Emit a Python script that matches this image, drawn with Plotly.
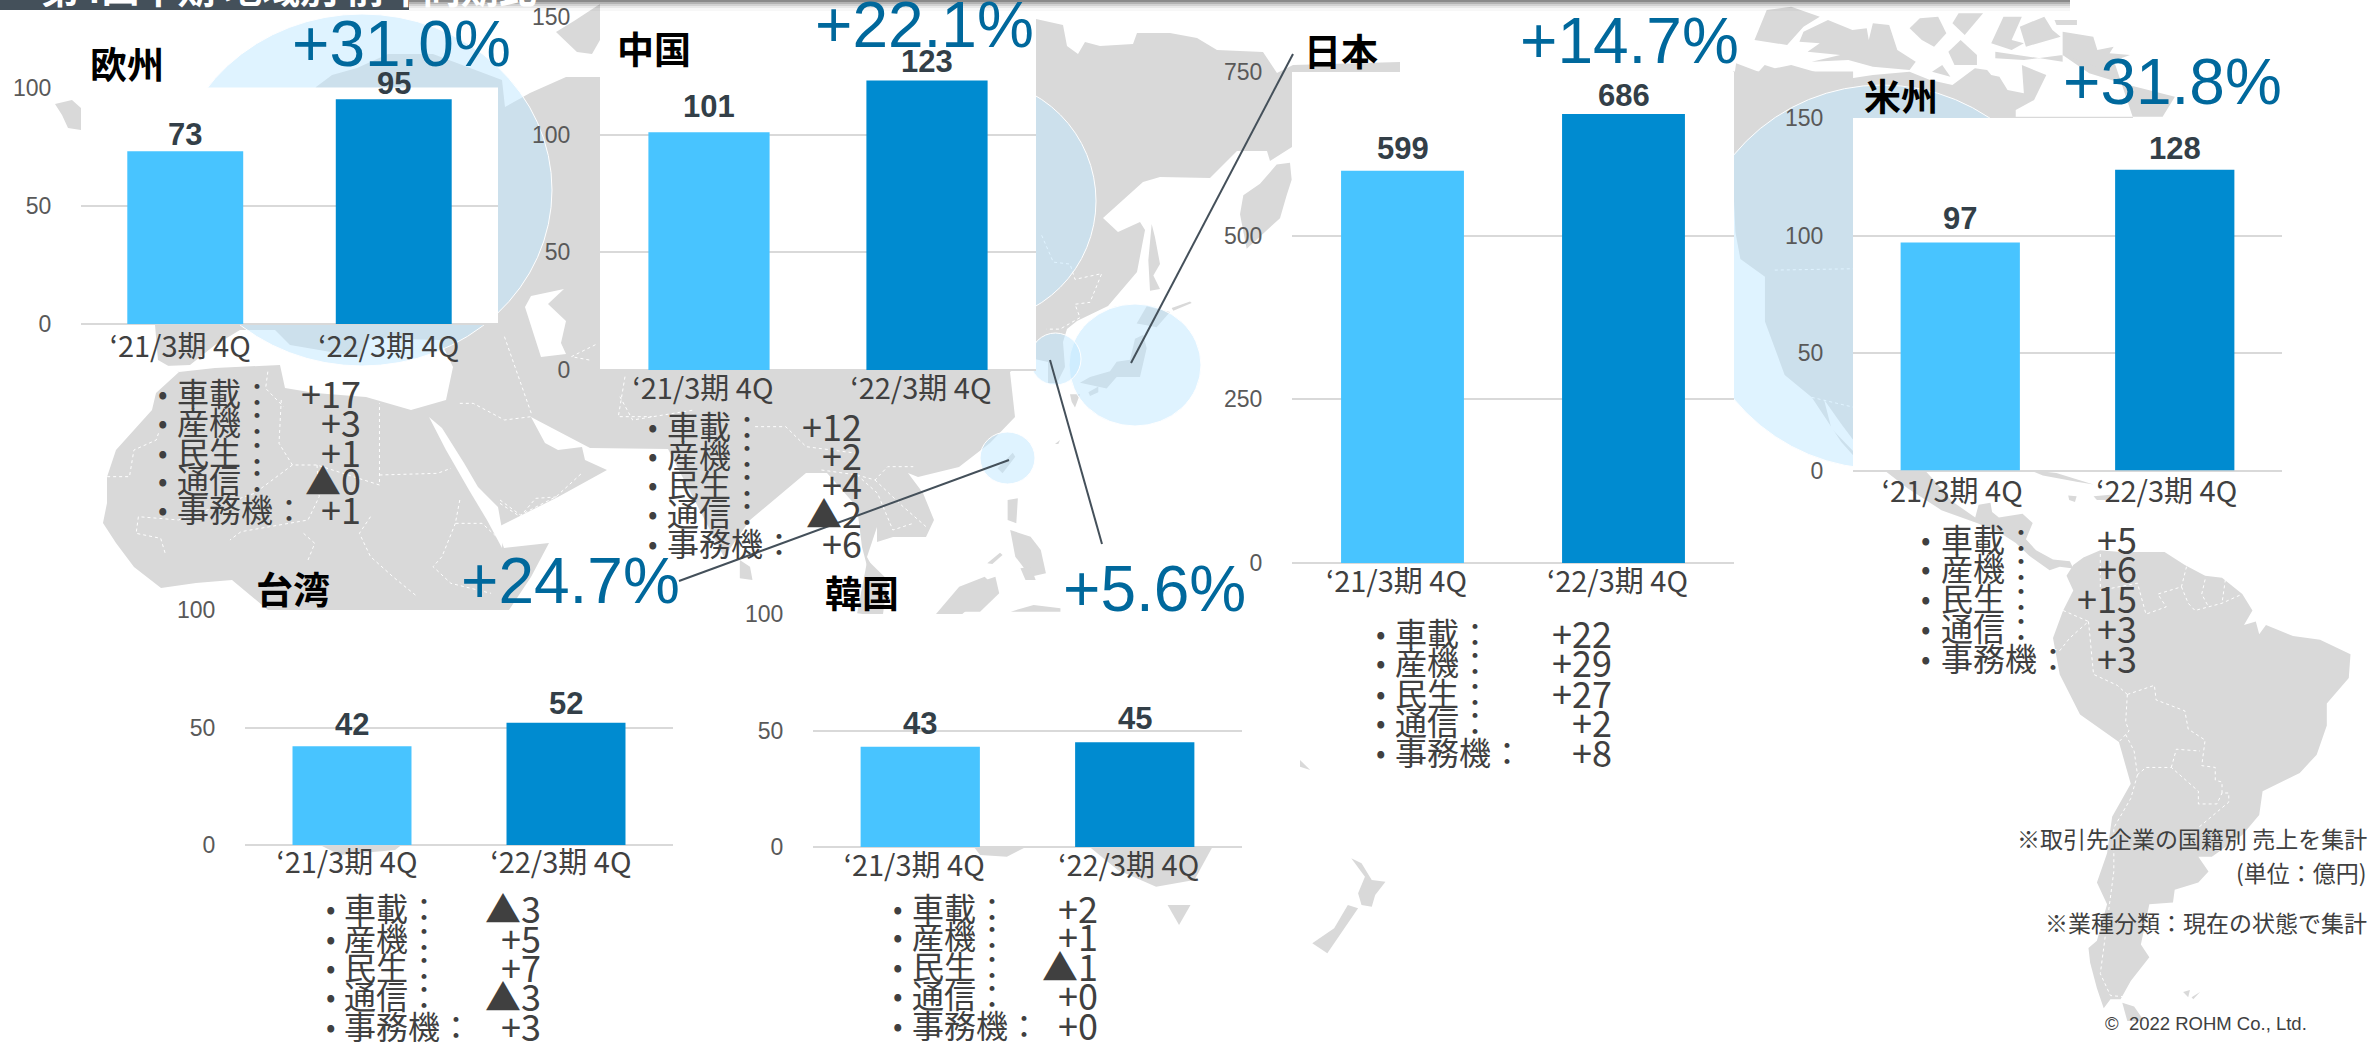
import plotly.graph_objects as go

W, H = 2372, 1042

# ---------- chart data ----------
categories = ["‘21/3期 4Q", "‘22/3期 4Q"]
segments = ["車載", "産機", "民生", "通信", "事務機"]

region_names = ["欧州", "中国", "日本", "米州", "台湾", "韓国"]
europe_values = [73, 95]
china_values = [101, 123]
japan_values = [599, 686]
americas_values = [97, 128]
taiwan_values = [42, 52]
korea_values = [43, 45]

europe_deltas = ["+17", "+3", "+1", "▲0", "+1"]
china_deltas = ["+12", "+2", "+4", "▲2", "+6"]
japan_deltas = ["+22", "+29", "+27", "+2", "+8"]
americas_deltas = ["+5", "+6", "+15", "+3", "+3"]
taiwan_deltas = ["▲3", "+5", "+7", "▲3", "+3"]
korea_deltas = ["+2", "+1", "▲1", "+0", "+0"]

growth_labels = ["+31.0%", "+22.1%", "+14.7%", "+31.8%", "+24.7%", "+5.6%"]
axis_maxima = [100, 150, 750, 150, 100, 100]
axis_ticks = [[0, 50, 100], [0, 50, 100, 150], [0, 250, 500, 750], [0, 50, 100, 150], [0, 50, 100], [0, 50, 100]]

notes = ["※取引先企業の国籍別 売上を集計", "(単位：億円)", "※業種分類：現在の状態で集計"]
copyright_text = "©  2022 ROHM Co., Ltd."
header_text = "第4四半期 地域別 前年同期比"

all_values = [europe_values, china_values, japan_values, americas_values, taiwan_values, korea_values]
all_deltas = [europe_deltas, china_deltas, japan_deltas, americas_deltas, taiwan_deltas, korea_deltas]

# ---------- layout of the panels (pixels) ----------
panels = [
    dict(l=81, r=498, top=87.5, bot=324, gaps=[17, 16], title=(89, 63), growth=(512, 44), shift=-5, standoff=3,
         rows=(162, 176, 362, [392, 421, 451, 479, 508])),
    dict(l=600, r=1036, top=17, bot=370, gaps=[26, 19], title=(616, 48), growth=(1035, 25), shift=-6, standoff=-1,
         rows=(652, 666, 863, [425, 454, 483, 512, 542])),
    dict(l=1292, r=1734, top=72, bot=563, gaps=[22, 18], title=(1303, 50), growth=(1740, 41), shift=-6, standoff=-1,
         rows=(1380, 1394, 1613, [632, 661, 692, 721, 751])),
    dict(l=1853, r=2282, top=118, bot=470.5, gaps=[24, 21], title=(1863, 95), growth=(2283, 82), shift=-8, standoff=1,
         rows=(1925, 1940, 2138, [538, 567, 597, 627, 657])),
    dict(l=245, r=673, top=610, bot=845, gaps=[22, 19], title=(255, 588), growth=(681, 581), shift=-5, standoff=-2,
         rows=(330, 343, 542, [907, 937, 966, 995, 1025])),
    dict(l=813, r=1242, top=614, bot=847, gaps=[23, 24], title=(824, 592), growth=(1247, 589), shift=-6, standoff=-1,
         rows=(897, 911, 1099, [907, 935, 965, 994, 1024])),
]

LIGHT, DARK = "#48c4ff", "#008bd0"
GRID = "#d9d9d9"
LAND = "#d9d9d9"
JP = "Noto Sans CJK JP"
LAT = "Liberation Sans"


def fx(x):
    return x / W


def fy(y):
    return 1 - y / H


def path(pts, close=True):
    s = "M " + " L ".join(f"{fx(x):.5f},{fy(y):.5f}" for x, y in pts)
    return s + (" Z" if close else "")


def z(x0, y0, sx, sy, pts):
    return [(x0 + x / sx, y0 + y / sy) for x, y in pts]


def z6(p): return z(0, 300, 2.24, 3, p)
def z7(p): return z(500, 360, 1.96, 3, p)
def z8(p): return z(1030, 0, 3, 2.613, p)
def z9(p): return z(1730, 0, 2.45, 3, p)
def z10(p): return z(1840, 470, 2.958, 2.74, p)
def z4(p): return z(100, 540, 1.3067, 3, p)
def z5(p): return z(1300, 600, 1.463, 3, p)


# ---------- background map (decoration only) ----------
eurafrasia = [
    (158, 360), (155, 325), (190, 250), (280, 160), (316, 87), (332, 75), (357, 68), (388, 54), (433, 54),
    (502, 80), (505, 107), (530, 93), (566, 77), (600, 77), (700, 30), (1036, 19), (1063, 25), (1067, 46),
    (1078, 54), (1085, 42), (1100, 46), (1133, 44), (1137, 33), (1170, 33), (1197, 38), (1217, 50), (1263, 52),
    (1277, 73), (1293, 65), (1400, 62), (1400, 147), (1292, 147), (1270, 161), (1267, 151), (1237, 151),
    (1210, 178), (1160, 177), (1143, 182), (1103, 218), (1118, 232), (1140, 222), (1145, 230), (1137, 272),
    (1108, 306), (1077, 321), (1067, 329), (1063, 342), (1065, 367), (1057, 383), (1048, 383), (1048, 362),
    (1030, 358), (1010, 372), (1015, 417), (990, 443), (959, 467), (918, 477), (908, 473), (923, 493),
    (934, 520), (926, 537), (893, 537), (877, 542), (877, 527), (867, 557), (885, 590), (872, 585), (862, 547),
    (857, 507), (827, 473), (806, 473), (750, 520), (724, 557), (668, 449), (590, 448), (531, 417), (545, 443),
    (558, 450), (582, 447), (585, 460), (607, 470), (558, 497), (498, 527), (500, 537), (504, 548), (549, 543),
    (531, 577), (509, 610), (500, 700), (460, 800), (395, 850), (340, 855), (320, 845), (300, 700), (268, 610),
    (232, 580), (196, 583), (161, 588), (134, 567), (116, 543), (103, 523), (107, 503), (107, 477), (116, 450),
    (134, 430), (152, 410), (156, 393), (179, 372),
]
land = [
    eurafrasia,
    [(55, 104), (72, 100), (81, 108), (81, 130), (68, 128), (62, 115)],            # Iceland
    [(556, 32), (574, 21), (600, 4), (600, 40), (592, 54), (577, 52)],             # Novaya Zemlya
    z8([(365, 585), (375, 620), (390, 690), (370, 720), (390, 755), (360, 760), (355, 680)]),
    z8([(780, 425), (740, 430), (690, 480), (640, 510), (630, 560), (650, 650), (700, 610), (750, 570), (770, 510), (785, 470)]),
    z8([(320, 845), (350, 800), (420, 815), (380, 855), (350, 850)]),
    z8([(315, 885), (340, 875), (350, 910), (330, 985), (260, 985), (230, 1015), (150, 1000), (130, 1010), (180, 985), (240, 970), (260, 945), (300, 940)]),
    z8([(175, 1025), (205, 1010), (205, 1025), (180, 1035)]),
    z8([(120, 1030), (150, 1030), (135, 1065), (125, 1050)]),
    z8([(425, 805), (480, 788), (485, 792), (430, 812)]),
    z8([(75, 1160), (90, 1150), (85, 1160)]),
    z7([(1005, 278), (1010, 290), (985, 340), (975, 325)]),                        # Taiwan
    z7([(995, 420), (1015, 415), (1012, 490), (995, 480)]),
    z7([(1000, 510), (1040, 530), (1060, 570), (1070, 640), (1040, 650), (1010, 590)]),
    z7([(470, 600), (490, 620), (495, 660), (470, 655)]),                          # Sri Lanka
    z7([(850, 770), (900, 680), (950, 650), (970, 680), (930, 730), (900, 770)]),
    z7([(955, 610), (980, 578), (985, 585), (965, 612)]),
    z7([(700, 760), (720, 600), (760, 660), (750, 770)]),
    z7([(1020, 625), (1040, 620), (1050, 660), (1030, 660)]),
    z4([(1140, 915), (1150, 945), (1185, 950), (1215, 915)]),
    z4([(1290, 915), (1330, 990), (1380, 1040), (1430, 1020), (1455, 915)]),
    z4([(1395, 1095), (1425, 1095), (1410, 1155)]),
    z4([(1120, 215), (1145, 130), (1170, 110), (1175, 160), (1150, 215)]),
    z4([(1190, 215), (1220, 195), (1255, 205), (1255, 215)]),
    z5([(75, 775), (90, 790), (105, 840), (125, 845), (110, 885), (105, 920), (90, 915), (85, 880), (95, 830)]),
    z5([(70, 915), (85, 925), (65, 985), (40, 1060), (18, 1030), (50, 985)]),
    z5([(0, 480), (15, 510), (0, 500)]),
    # Canada / Alaska mainland
    z9([(15, 190), (70, 215), (85, 195), (110, 205), (150, 195), (235, 225), (245, 240), (270, 240), (350, 225),
        (440, 215), (490, 240), (545, 255), (600, 205), (630, 210), (640, 225), (660, 230), (680, 270), (720, 280),
        (715, 195), (775, 225), (745, 300), (700, 330), (700, 350), (900, 350), (1060, 350), (1090, 290), (960, 250),
        (880, 220), (815, 165), (940, 180), (1000, 400), (-10, 400)]),
    z(1600, 0, 2.031, 2.24, [(270, 160), (514, 160), (514, 1020), (490, 990), (430, 890), (375, 840), (335, 720), (335, 620), (285, 580), (275, 520), (270, 400)]),
    z9([(60, 120), (90, 30), (150, 20), (220, 50), (180, 80), (140, 135)]),
    z9([(170, 125), (180, 95), (240, 60), (300, 90), (335, 85), (340, 120), (350, 70), (390, 75), (410, 150), (455, 185), (440, 210), (350, 200), (290, 180), (200, 185), (270, 165), (190, 155), (220, 130)]),
    z9([(440, 85), (465, 55), (510, 50), (530, 100), (500, 140), (470, 120)]),
    z9([(545, 70), (560, 40), (620, 40), (575, 105)]),
    z9([(535, 155), (565, 120), (605, 165), (605, 195), (550, 195)]),
    z9([(495, 215), (520, 195), (540, 230)]),
    z9([(640, 130), (670, 50), (715, 50), (690, 120), (720, 130), (690, 150)]),
    z9([(710, 80), (770, 50), (790, 90), (810, 110), (725, 140)]),
    z9([(795, 60), (850, 60), (850, 75), (800, 75)]),
    z9([(650, 155), (815, 185), (815, 95), (890, 110), (900, 150), (940, 140), (930, 160), (980, 165), (900, 200), (815, 165), (720, 180), (650, 175)]),
    # Central and South America
    z10([(130, 0), (200, 50), (300, 110), (405, 145), (470, 170), (520, 200), (560, 235), (620, 275), (650, 265), (690, 270), (680, 250), (630, 245), (580, 220), (550, 190), (570, 145), (540, 120), (470, 130), (450, 115), (445, 90), (410, 95), (400, 130), (330, 85), (290, 40), (250, 0)]),
    z10([(560, 0), (640, 8), (750, 40), (700, 32), (600, 15)]),
    z10([(675, 70), (700, 72), (695, 88), (678, 82)]),
    z10([(750, 72), (800, 68), (800, 82), (760, 82)]),
    z10([(690, 260), (720, 240), (770, 220), (830, 225), (900, 225), (960, 225), (1020, 260), (1080, 290), (1130, 295), (1190, 340), (1220, 385), (1195, 425), (1230, 415), (1240, 450), (1260, 425), (1340, 455), (1420, 465), (1510, 505), (1505, 570), (1440, 640), (1440, 700), (1410, 780), (1360, 830), (1250, 880), (1240, 945), (1190, 1000), (1100, 1060), (1060, 1060), (1090, 1100), (1060, 1130), (990, 1150), (985, 1185), (915, 1190), (890, 1300), (915, 1335), (860, 1400), (830, 1450), (800, 1450), (780, 1475), (760, 1420), (740, 1350), (735, 1310), (760, 1290), (790, 1190), (760, 1130), (790, 1050), (805, 950), (860, 860), (825, 745), (710, 670), (650, 560), (630, 460), (660, 385), (690, 330), (670, 290)]),
    z10([(835, 1460), (870, 1470), (900, 1510), (850, 1510)]),
    z10([(1015, 1430), (1035, 1425), (1030, 1445)]),
    z10([(1040, 1445), (1065, 1430), (1045, 1450)]),
]
seas = [
    [(179, 372), (215, 368), (280, 365), (285, 388), (315, 393), (366, 397), (411, 410), (446, 400), (453, 367),
     (440, 340), (370, 338), (360, 357), (290, 345), (275, 330), (240, 330), (215, 345), (190, 365), (165, 366)],
    [(429, 417), (446, 450), (469, 490), (487, 520), (502, 548), (503, 535), (498, 507), (478, 487), (464, 463), (442, 428)],
    [(531, 296), (564, 289), (548, 304), (566, 321), (561, 343), (566, 354), (541, 357), (525, 307)],
    z(1600, 0, 2.031, 2.24, [(455, 895), (470, 960), (514, 1010), (514, 985), (490, 950)]),
]
borders = [
    z6([(630, 300), (625, 430), (655, 495), (710, 495), (850, 555), (850, 310)]),
    z6([(850, 525), (980, 520), (1010, 505)]),
    z6([(240, 530), (290, 530), (300, 450), (350, 420), (355, 400)]),
    z6([(600, 215), (595, 265), (635, 320)]),
    z6([(710, 495), (715, 590), (690, 660), (540, 695), (515, 720)]),
    z6([(655, 495), (570, 580), (400, 660), (310, 650)]),
    z6([(310, 650), (305, 700), (360, 715), (370, 760)]),
    z6([(830, 650), (805, 700), (830, 770), (880, 830), (935, 890)]),
    z6([(1030, 600), (1020, 670), (1080, 670), (1120, 720)]),
    z6([(1020, 670), (990, 770), (970, 800), (1010, 850), (1100, 880)]),
    z6([(690, 780), (705, 730), (680, 700)]),
    z6([(1030, 310), (1060, 310), (1130, 360), (1190, 350)]),
    z6([(1130, 110), (1190, 340)]),
    z6([(1320, 180), (1280, 170), (1340, 130)]),
    z6([(1400, 230), (1385, 350), (1460, 350)]),
    z6([(1120, 610), (1165, 650), (1200, 595), (1255, 590), (1250, 625)]),
    z7([(235, 110), (260, 180), (380, 150)]),
    z7([(500, 200), (560, 200), (600, 260), (700, 280)]),
    z7([(630, 330), (700, 345), (735, 360), (760, 320), (810, 320)]),
    z7([(735, 360), (790, 440), (835, 500)]),
    z7([(700, 345), (740, 400), (770, 510), (810, 490)]),
    z7([(0, 420), (40, 465), (110, 410), (160, 340)]),
    z8([(35, 615), (70, 685), (120, 690), (135, 730), (215, 715), (180, 790), (135, 795), (150, 830), (90, 860), (50, 860)]),
    z(1600, 0, 2.031, 2.24, [(355, 605), (514, 602)]),
    z(1600, 0, 2.031, 2.24, [(430, 890), (514, 912)]),
    z10([(850, 615), (930, 590), (935, 630), (1020, 660), (1030, 710), (1080, 740), (1070, 810), (1110, 815), (1110, 850), (1130, 855), (1130, 885), (1150, 885), (1150, 910), (1060, 980)]),
    z10([(850, 615), (845, 690), (855, 715), (825, 745)]),
    z10([(845, 725), (870, 770), (880, 835), (905, 815), (980, 815), (1060, 880), (1060, 915), (1115, 915), (1130, 885)]),
    z10([(980, 815), (995, 765), (1065, 770)]),
    z10([(880, 835), (860, 900), (810, 980), (810, 1100), (770, 1380), (800, 1440), (860, 1445)]),
    z10([(660, 385), (735, 415), (680, 460), (650, 495), (630, 490)]),
    z10([(735, 415), (750, 560), (820, 590), (850, 615)]),
    z10([(770, 230), (770, 330), (880, 310), (905, 395), (965, 375), (940, 340), (1010, 320), (1025, 265)]),
    z10([(1010, 320), (1030, 365), (1050, 385), (1130, 365), (1190, 340)]),
    z10([(1080, 300), (1070, 340), (1090, 375)]),
    z10([(1140, 300), (1130, 365)]),
]
circles = [
    (172, 552, 14, 366),
    (852, 1096, 79, 323),
    (1069, 1201, 304, 426),
    (1030, 1081, 333, 385),
    (980, 1035, 432, 484),
    (1690, 2074, 85, 469),
]
leader_lines = [
    [(1293, 54), (1131, 363)],
    [(1050, 360), (1102, 544)],
    [(1009, 460), (679, 581)],
]
shadow_steps = [(0, 2, .46), (2, 4, .30), (4, 6, .18), (6, 8, .09), (8, 11, .03)]

shapes = []
for poly in land:
    shapes.append(dict(type="path", path=path(poly), xref="paper", yref="paper", fillcolor=LAND, line_width=0, layer="below"))
for poly in seas:
    shapes.append(dict(type="path", path=path(poly), xref="paper", yref="paper", fillcolor="white", line_width=0, layer="below"))
for line in borders:
    shapes.append(dict(type="path", path=path(line, close=False), xref="paper", yref="paper",
                       line=dict(color="white", width=1, dash="dot"), layer="below"))
for x0, x1, y0, y1 in circles:
    shapes.append(dict(type="circle", xref="paper", yref="paper", x0=fx(x0), x1=fx(x1), y0=fy(y1), y1=fy(y0),
                       fillcolor="rgba(191,231,255,0.5)", line=dict(color="white", width=1), layer="below"))
for p in panels:
    shapes.append(dict(type="rect", xref="paper", yref="paper", x0=fx(p["l"]), x1=fx(p["r"]), y0=fy(p["bot"]), y1=fy(p["top"]),
                       fillcolor="white", line_width=0, layer="below"))
for y0, y1, a in shadow_steps:
    shapes.append(dict(type="rect", xref="paper", yref="paper", x0=fx(409), x1=fx(2070), y0=fy(y1), y1=fy(y0),
                       fillcolor=f"rgba(0,0,0,{a})", line_width=0, layer="above"))
shapes.append(dict(type="rect", xref="paper", yref="paper", x0=0, x1=fx(409), y0=fy(10), y1=1,
                   fillcolor="#44505a", line_width=0, layer="above"))
for a, b in leader_lines:
    shapes.append(dict(type="line", xref="paper", yref="paper", x0=fx(a[0]), y0=fy(a[1]), x1=fx(b[0]), y1=fy(b[1]),
                       line=dict(color="#44505a", width=2), layer="above"))

# ---------- figure ----------
fig = go.Figure()
annotations = []


def note(x, y, text, size, color, anchor="left", family=JP):
    annotations.append(dict(xref="paper", yref="paper", x=fx(x), y=fy(y), text=text, showarrow=False,
                            xanchor=anchor, yanchor="middle", borderpad=0,
                            font=dict(family=family, size=size, color=color)))


axes = {}
for i, p in enumerate(panels):
    n = "" if i == 0 else str(i + 1)
    fig.add_trace(go.Bar(x=categories, y=all_values[i], xaxis=f"x{n}", yaxis=f"y{n}",
                         marker=dict(color=[LIGHT, DARK], line_width=0), width=0.556, showlegend=False,
                         hoverinfo="skip"))
    axes[f"xaxis{n}"] = dict(domain=[fx(p["l"]), fx(p["r"])], anchor=f"y{n}", showgrid=False, zeroline=False,
                             showline=False, ticks="", ticklabelshift=p["shift"], ticklabelstandoff=p["standoff"],
                             tickfont=dict(family=JP, size=29, color="#404040"), fixedrange=True, type="category",
                             range=[-0.5, 1.5])
    axes[f"yaxis{n}"] = dict(domain=[fy(p["bot"]), fy(p["top"])], anchor=f"x{n}", range=[0, axis_maxima[i]],
                             tickvals=axis_ticks[i], showgrid=True, gridcolor=GRID, gridwidth=2, zeroline=True,
                             zerolinecolor=GRID, zerolinewidth=2, showline=False, ticks="outside", ticklen=24,
                             tickcolor="rgba(0,0,0,0)", tickfont=dict(family=LAT, size=23, color="#595959"),
                             fixedrange=True)
    for cat, val, gap in zip(categories, all_values[i], p["gaps"]):
        annotations.append(dict(xref=f"x{n}", yref=f"y{n}", x=cat, y=val, text=f"<b>{val}</b>", showarrow=False,
                                yanchor="middle", xanchor="center", yshift=gap, borderpad=0,
                                font=dict(family=LAT, size=31, color="#333f48")))
    note(p["title"][0], p["title"][1], f"<b>{region_names[i]}</b>", 37, "#000000")
    note(p["growth"][0], p["growth"][1], growth_labels[i], 64, "#00689c", "right", LAT)
    bx, tx, vx, ys = p["rows"]
    for seg, delta, y in zip(segments, all_deltas[i], ys):
        note(bx - 5, y, "•", 28, "#404040")
        note(tx, y, seg + "：", 32, "#404040")
        note(vx, y, delta, 36, "#404040", "right")

note(2368, 838, notes[0], 23, "#404040", "right")
note(2368, 872, notes[1], 23, "#404040", "right")
note(2368, 922, notes[2], 23, "#404040", "right")
note(2308, 1023, copyright_text, 18.5, "#404040", "right", LAT)
note(40, -14, f"<b>{header_text}</b>", 38, "#ffffff")

fig.update_layout(width=W, height=H, margin=dict(l=0, r=0, t=0, b=0, autoexpand=False), paper_bgcolor="white",
                  plot_bgcolor="rgba(0,0,0,0)", shapes=shapes, annotations=annotations, bargap=0.444,
                  showlegend=False, **axes)

fig.write_html("out.html", config=dict(displayModeBar=False),
               post_script="document.body.style.margin='0';document.body.style.overflow='hidden';")
